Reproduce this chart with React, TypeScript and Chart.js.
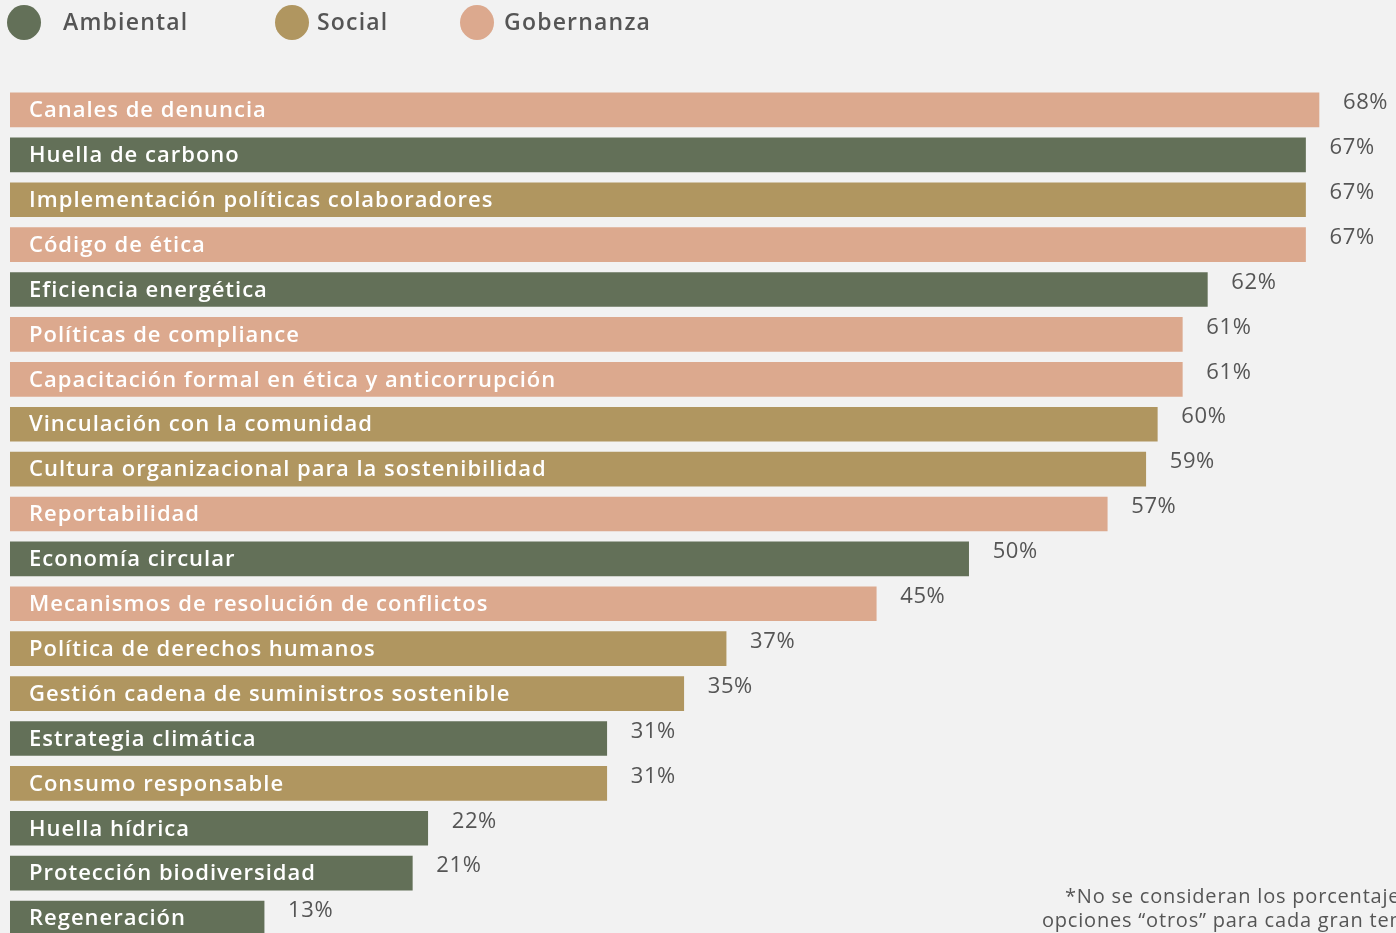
import React, { useEffect, useRef } from "react";
import { Chart, registerables } from "chart.js";

Chart.register(...registerables);

const categories = [
  "Canales de denuncia",
  "Huella de carbono",
  "Implementación políticas colaboradores",
  "Código de ética",
  "Eficiencia energética",
  "Políticas de compliance",
  "Capacitación formal en ética y anticorrupción",
  "Vinculación con la comunidad",
  "Cultura organizacional para la sostenibilidad",
  "Reportabilidad",
  "Economía circular",
  "Mecanismos de resolución de conflictos",
  "Política de derechos humanos",
  "Gestión cadena de suministros sostenible",
  "Estrategia climática",
  "Consumo responsable",
  "Huella hídrica",
  "Protección biodiversidad",
  "Regeneración",
];

const values = [68, 67.3, 67.3, 67.3, 62.2, 60.9, 60.9, 59.6, 59, 57, 49.8, 45, 37.2, 35, 31, 31, 21.7, 20.9, 13.2];

const valueLabels = ["68%", "67%", "67%", "67%", "62%", "61%", "61%", "60%", "59%", "57%", "50%", "45%", "37%", "35%", "31%", "31%", "22%", "21%", "13%"];

const groupOf = ["G", "A", "S", "G", "A", "G", "G", "S", "S", "G", "A", "G", "S", "S", "A", "S", "A", "A", "A"];

const groups = ["A", "S", "G"];
const groupNames = ["Ambiental", "Social", "Gobernanza"];
const groupColors = ["#637058", "#b09660", "#dca98e"];

const FONT = "'Open Sans', sans-serif";

const labelPlugin = {
  id: "barLabels",
  afterDatasetsDraw(chart: any) {
    const ctx = chart.ctx;
    const meta = chart.getDatasetMeta(0);
    ctx.save();
    meta.data.forEach((bar: any, i: number) => {
      ctx.font = `600 22px ${FONT}`;
      ctx.letterSpacing = "1px";
      ctx.textBaseline = "middle";
      ctx.textAlign = "left";
      ctx.fillStyle = "#ffffff";
      ctx.fillText(categories[i], bar.base + 19, bar.y + 1);
      ctx.font = `500 22px ${FONT}`;
      ctx.letterSpacing = "0.6px";
      ctx.fillStyle = "#555555";
      ctx.fillText(valueLabels[i], bar.x + 24, bar.y - 7);
    });
    ctx.restore();
  },
};

export default function App() {
  const ref = useRef<HTMLCanvasElement>(null);

  useEffect(() => {
    document.body.style.margin = "0";
    document.body.style.background = "#f2f2f2";
    const colors = groupOf.map((g) => groupColors[groups.indexOf(g)]);
    const chart = new Chart(ref.current!, {
      type: "bar",
      data: {
        labels: categories,
        datasets: [
          {
            data: values,
            backgroundColor: colors,
            borderWidth: 0,
            barThickness: 34,
          },
        ],
      },
      options: {
        indexAxis: "y",
        animation: false,
        responsive: false,
        maintainAspectRatio: false,
        layout: { padding: { left: 10, right: 0, top: 87.5, bottom: 4.5 } },
        scales: {
          x: { display: false, min: 0, max: 72 },
          y: { display: false },
        },
        plugins: {
          legend: { display: false },
          tooltip: { enabled: false },
        },
      },
      plugins: [labelPlugin],
    });
    return () => chart.destroy();
  }, []);

  return (
    <div
      style={{
        position: "fixed",
        left: 0,
        top: 0,
        width: 1396,
        height: 933,
        overflow: "hidden",
        background: "#f2f2f2",
        fontFamily: FONT,
        color: "#555555",
      }}
    >
      <canvas ref={ref} width={1396} height={945} style={{ position: "absolute", left: 0, top: 0 }} />
      {groupNames.map((name, i) => {
        const cx = [24, 292, 477][i];
        const tx = [63, 317, 504][i];
        return (
          <React.Fragment key={name}>
            <div
              style={{
                position: "absolute",
                left: cx - 17,
                top: 5,
                width: 34,
                height: 35,
                borderRadius: "50%",
                background: groupColors[i],
              }}
            />
            <div
              style={{
                position: "absolute",
                left: tx,
                top: 5,
                fontSize: 23,
                fontWeight: 600,
                letterSpacing: 1.2,
                lineHeight: "32px",
                whiteSpace: "nowrap",
              }}
            >
              {name}
            </div>
          </React.Fragment>
        );
      })}
      <div style={{ position: "absolute", left: 1065, top: 883, fontSize: 20, letterSpacing: 0.8, lineHeight: "26px", whiteSpace: "nowrap" }}>
        *No se consideran los porcentajes de las
      </div>
      <div style={{ position: "absolute", left: 1042, top: 907, fontSize: 20, letterSpacing: 0.8, lineHeight: "26px", whiteSpace: "nowrap" }}>
        opciones “otros” para cada gran tema.
      </div>
    </div>
  );
}
